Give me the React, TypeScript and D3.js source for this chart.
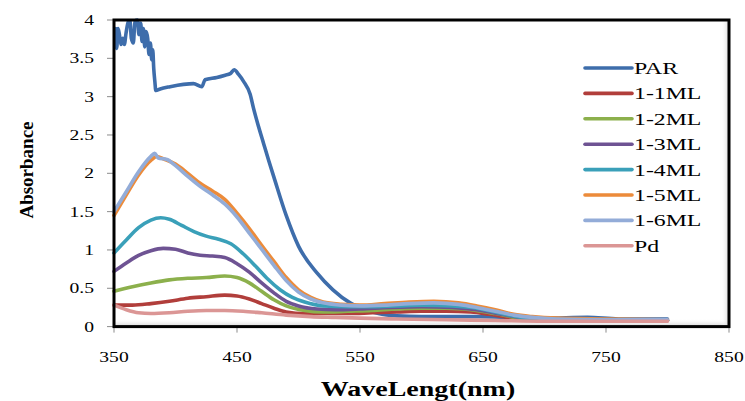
import React from 'react';
import * as d3 from 'd3';

const X_TICKS = [350, 450, 550, 650, 750, 850];
const Y_TICKS = [0, 0.5, 1, 1.5, 2, 2.5, 3, 3.5, 4];
const SERIES_NAMES = ['PAR', '1-1ML', '1-2ML', '1-3ML', '1-4ML', '1-5ML', '1-6ML', 'Pd'];
const SERIES_COLORS = ['#3E6DAB', '#B13E3B', '#8CB04C', '#6E5393', '#3AA0B9', '#EC8B3A', '#93ACD8', '#DB9695'];

const PAR_WL = [351.4, 352.2, 353.3, 354.4, 355.7, 357.1, 358.4, 359.8, 361.7, 363.0, 364.1, 365.7, 367.1, 369.0, 370.3, 371.7, 372.8, 373.9, 375.0, 376.0, 377.4, 378.5, 379.6, 380.7, 381.5, 382.3, 383.2, 384.0, 387.5, 395.6, 406.5, 414.6, 421.4, 424, 433.6, 440.4, 444.5, 447.7, 451.3, 455.3, 460.7, 463.4, 467.5, 471.6, 475.7, 480, 490, 500, 515, 528, 542, 555, 565, 580, 600, 648, 700, 735, 760, 800];
const PAR_ABS = [3.89, 3.63, 3.89, 3.81, 3.68, 3.76, 3.68, 3.83, 3.98, 3.99, 3.76, 3.70, 3.99, 4.0, 3.81, 3.96, 3.72, 3.89, 3.65, 3.85, 3.76, 3.55, 3.70, 3.48, 3.61, 3.37, 3.20, 3.08, 3.10, 3.13, 3.16, 3.17, 3.13, 3.22, 3.25, 3.28, 3.30, 3.35, 3.29, 3.20, 3.03, 2.85, 2.61, 2.39, 2.17, 1.95, 1.45, 1.05, 0.70, 0.48, 0.31, 0.22, 0.17, 0.14, 0.13, 0.13, 0.11, 0.12, 0.10, 0.10];

const ML1_WL = [350, 365, 380, 395, 410, 425, 440, 450, 460, 470, 480, 490, 505, 520, 540, 560, 580, 600, 620, 640, 655, 670, 690, 720, 760, 800];
const ML1_ABS = [0.28, 0.28, 0.30, 0.33, 0.37, 0.39, 0.41, 0.40, 0.36, 0.30, 0.24, 0.19, 0.17, 0.17, 0.17, 0.18, 0.19, 0.20, 0.20, 0.19, 0.16, 0.12, 0.09, 0.08, 0.08, 0.08];

const ML2_WL = [350, 365, 380, 395, 410, 425, 440, 450, 460, 470, 480, 490, 505, 520, 540, 560, 580, 600, 620, 640, 660, 680, 700, 750, 800];
const ML2_ABS = [0.46, 0.52, 0.57, 0.61, 0.63, 0.64, 0.66, 0.64, 0.57, 0.46, 0.35, 0.27, 0.21, 0.19, 0.20, 0.21, 0.23, 0.24, 0.24, 0.22, 0.17, 0.11, 0.09, 0.08, 0.08];

const ML3_WL = [350, 360, 370, 380, 390, 400, 410, 420, 430, 440, 450, 460, 470, 480, 490, 500, 515, 530, 550, 575, 600, 625, 645, 665, 685, 705, 750, 800];
const ML3_ABS = [0.72, 0.83, 0.93, 0.99, 1.02, 1.01, 0.96, 0.93, 0.92, 0.90, 0.82, 0.71, 0.57, 0.44, 0.33, 0.27, 0.23, 0.22, 0.23, 0.25, 0.26, 0.25, 0.22, 0.16, 0.11, 0.09, 0.08, 0.08];

const ML4_WL = [350, 360, 370, 380, 388, 395, 405, 415, 425, 435, 445, 455, 465, 475, 485, 495, 505, 520, 540, 560, 580, 600, 625, 645, 665, 685, 705, 750, 800];
const ML4_ABS = [0.96, 1.13, 1.29, 1.39, 1.42, 1.40, 1.32, 1.24, 1.18, 1.14, 1.08, 0.95, 0.79, 0.62, 0.48, 0.38, 0.32, 0.27, 0.26, 0.26, 0.27, 0.28, 0.27, 0.24, 0.17, 0.11, 0.09, 0.08, 0.08];

const ML5_WL = [350, 360, 370, 380, 385, 390, 400, 410, 420, 430, 440, 450, 460, 470, 480, 490, 500, 510, 520, 535, 550, 570, 590, 610, 630, 645, 660, 675, 690, 710, 750, 800];
const ML5_ABS = [1.45, 1.72, 1.98, 2.17, 2.22, 2.19, 2.12, 2.00, 1.87, 1.77, 1.66, 1.48, 1.28, 1.06, 0.85, 0.64, 0.48, 0.38, 0.32, 0.29, 0.28, 0.30, 0.32, 0.33, 0.31, 0.27, 0.22, 0.16, 0.13, 0.11, 0.10, 0.09];

const ML6_WL = [350, 360, 370, 380, 383, 386, 393, 400, 410, 420, 430, 440, 450, 460, 470, 480, 490, 500, 510, 520, 535, 550, 570, 590, 610, 630, 645, 660, 675, 690, 710, 750, 800];
const ML6_ABS = [1.50, 1.76, 2.02, 2.22, 2.26, 2.20, 2.18, 2.10, 1.96, 1.83, 1.72, 1.60, 1.43, 1.22, 1.01, 0.80, 0.60, 0.45, 0.36, 0.31, 0.28, 0.27, 0.28, 0.30, 0.31, 0.29, 0.25, 0.20, 0.15, 0.12, 0.10, 0.09, 0.09];

const PD_WL = [350, 360, 370, 380, 395, 410, 425, 440, 455, 470, 490, 510, 530, 550, 580, 620, 660, 700, 750, 800];
const PD_ABS = [0.28, 0.22, 0.18, 0.17, 0.18, 0.20, 0.21, 0.21, 0.20, 0.18, 0.15, 0.13, 0.12, 0.11, 0.10, 0.09, 0.08, 0.07, 0.07, 0.07];

const SERIES_WL = [PAR_WL, ML1_WL, ML2_WL, ML3_WL, ML4_WL, ML5_WL, ML6_WL, PD_WL];
const SERIES_ABS = [PAR_ABS, ML1_ABS, ML2_ABS, ML3_ABS, ML4_ABS, ML5_ABS, ML6_ABS, PD_ABS];

const W = 745;
const H = 401;
const PLOT = { left: 114, right: 729, top: 20, bottom: 326.6 };
const FONT = '"Liberation Serif", "Times New Roman", serif';
const SX = 1.4;

function SText({ x, y, anchor = 'start', size, bold = false, children }: any) {
  return (
    <text
      transform={`translate(${x},${y}) scale(${SX},1)`}
      textAnchor={anchor}
      fontSize={size}
      fontWeight={bold ? 'bold' : 'normal'}
      fontFamily={FONT}
      fill="#000"
    >
      {children}
    </text>
  );
}

export default function App() {
  const x = d3.scaleLinear().domain([350, 850]).range([PLOT.left, PLOT.right]);
  const y = d3.scaleLinear().domain([0, 4]).range([PLOT.bottom, PLOT.top]);

  const line = d3
    .line<[number, number]>()
    .x((d) => x(d[0]))
    .y((d) => y(d[1]))
    .curve(d3.curveMonotoneX);

  const legendX0 = 585;
  const legendX1 = 632;
  const legendY0 = 68;
  const legendDy = 25.4;

  const L = PLOT.left;
  const R = PLOT.right;
  const T = PLOT.top;
  const B = PLOT.bottom;

  return (
    <div style={{ position: 'absolute', left: 0, top: 0 }}>
      <svg width={W} height={H} viewBox={`0 0 ${W} ${H}`} style={{ display: 'block', background: '#ffffff' }}>
        <defs>
          <linearGradient id="shB" x1="0" y1="0" x2="0" y2="1">
            <stop offset="0" stopColor="#ffffff" stopOpacity="0" />
            <stop offset="1" stopColor="#cfcfcf" stopOpacity="1" />
          </linearGradient>
          <linearGradient id="shR" x1="0" y1="0" x2="1" y2="0">
            <stop offset="0" stopColor="#ffffff" stopOpacity="0" />
            <stop offset="1" stopColor="#d5d5d5" stopOpacity="1" />
          </linearGradient>
        </defs>
        <rect x={L} y={B - 8} width={R - L} height={8} fill="url(#shB)" />
        <rect x={R - 8} y={T} width={8} height={B - T} fill="url(#shR)" />

        {Y_TICKS.map((t) => (
          <g key={'y' + t}>
            <rect x={L - 7} y={y(t) - 0.5} width={7} height={1} fill="#8c8c8c" />
            <SText x={L - 20} y={y(t) + 5} anchor="end" size={14}>
              {String(t)}
            </SText>
          </g>
        ))}
        {X_TICKS.map((t) => (
          <g key={'x' + t}>
            <rect x={x(t) - 0.5} y={B} width={1} height={6} fill="#8c8c8c" />
            <SText x={x(t)} y={362} anchor="middle" size={14}>
              {String(t)}
            </SText>
          </g>
        ))}

        {SERIES_NAMES.map((name, i) => {
          const pts: [number, number][] = SERIES_WL[i].map((w, k) => [w, SERIES_ABS[i][k]]);
          return (
            <path
              key={name}
              d={line(pts) || ''}
              fill="none"
              stroke={SERIES_COLORS[i]}
              strokeWidth={3.6}
              strokeLinejoin="round"
              strokeLinecap="round"
            />
          );
        })}

        {SERIES_NAMES.map((name, i) => (
          <g key={'lg' + name}>
            <line
              x1={legendX0}
              x2={legendX1}
              y1={legendY0 + i * legendDy}
              y2={legendY0 + i * legendDy}
              stroke={SERIES_COLORS[i]}
              strokeWidth={3.6}
              strokeLinecap="round"
            />
            <SText x={legendX1 + 2} y={legendY0 + i * legendDy + 6} size={17}>
              {name}
            </SText>
          </g>
        ))}

        <text
          transform={`translate(33,170) rotate(-90)`}
          textAnchor="middle"
          fontSize={19}
          fontWeight="bold"
          fontFamily={FONT}
          fill="#000"
        >
          Absorbance
        </text>
        <SText x={418} y={396} anchor="middle" size={20} bold>
          WaveLengt(nm)
        </SText>

        <rect x={L} y={T} width={R - L} height={B - T} fill="none" stroke="#000000" strokeWidth={3} />
      </svg>
    </div>
  );
}
